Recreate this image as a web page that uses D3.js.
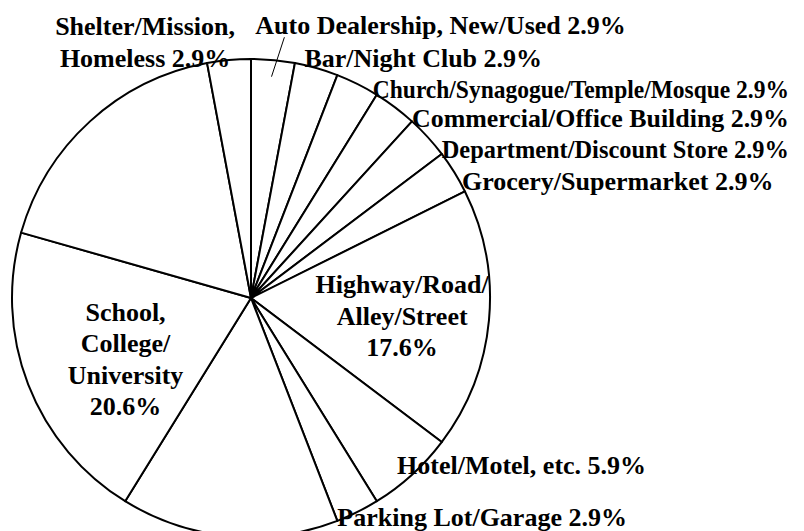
<!DOCTYPE html>
<html>
<head>
<meta charset="utf-8">
<script src="https://cdn.jsdelivr.net/npm/d3@7"></script>
<style>
  body { margin: 0; background: #fff; }
  svg text { font-family: "Times New Roman", "Liberation Serif", serif; font-weight: bold; font-size: 26px; fill: #000; }
</style>
</head>
<body>
<svg id="chart" width="804" height="531"></svg>
<script>
// incidents by location type (34 total), clockwise from 12 o'clock
var categories = ["Auto Dealership, New/Used", "Bar/Night Club", "Church/Synagogue/Temple/Mosque",
    "Commercial/Office Building", "Department/Discount Store", "Grocery/Supermarket",
    "Highway/Road/Alley/Street", "Hotel/Motel, etc.", "Parking Lot/Garage",
    "(unlabeled)", "School, College/University", "(unlabeled)", "Shelter/Mission, Homeless"];
var counts = [1, 1, 1, 1, 1, 1, 6, 2, 1, 5, 7, 6, 1];
var pctLabels = ["2.9%", "2.9%", "2.9%", "2.9%", "2.9%", "2.9%", "17.6%", "5.9%", "2.9%", "", "20.6%", "", "2.9%"];
// how each label is broken into lines
var labelLines = [
    ["Auto Dealership, New/Used 2.9%"],
    ["Bar/Night Club 2.9%"],
    ["Church/Synagogue/Temple/Mosque 2.9%"],
    ["Commercial/Office Building 2.9%"],
    ["Department/Discount Store 2.9%"],
    ["Grocery/Supermarket 2.9%"],
    ["Highway/Road/", "Alley/Street", "17.6%"],
    ["Hotel/Motel, etc. 5.9%"],
    ["Parking Lot/Garage 2.9%"],
    [],
    ["School,", "College/", "University", "20.6%"],
    [],
    ["Shelter/Mission,", "Homeless 2.9%"]
];

var cx = 251, cy = 298, R = 239, lineH = 31.5, rightEdge = 789;

var svg = d3.select("#chart");
var g = svg.append("g").attr("transform", "translate(" + cx + "," + cy + ")");

var pie = d3.pie().sort(null).value(function(d) { return d; });
var arcs = pie(counts);
var arc = d3.arc().innerRadius(0).outerRadius(R);

g.selectAll("path")
    .data(arcs)
    .enter()
    .append("path")
    .attr("d", arc)
    .attr("fill", "#fff")
    .attr("stroke", "#000")
    .attr("stroke-width", 2)
    .attr("stroke-linejoin", "round");

// label placement: where on the slice (angle key + radius factor) plus pixel nudge
var place = [
    {a: "mid", r: 1.1, dx: -20, dy: -2, anchor: "start"},
    {a: "mid", r: 1.0, dx: -12, dy: -1, anchor: "start"},
    {a: "end", r: 1.0, dx: -4, dy: 3, anchor: "start"},
    {a: "end", r: 1.0, dx: 0, dy: 6, anchor: "start"},
    {a: "end", r: 1.0, dx: 0, dy: 4, anchor: "start"},
    {a: "end", r: 1.0, dx: -3, dy: -1, anchor: "start"},
    {a: "mid", r: 0.635, dx: 0, dy: -19, anchor: "middle"},
    {a: "mid", r: 1.0, dx: -15, dy: -1, anchor: "start"},
    {a: "end", r: 1.0, dx: 0, dy: 5, anchor: "start"},
    null,
    {a: "mid", r: 0.563, dx: 0, dy: -26, anchor: "middle"},
    null,
    {a: "start", r: 1.0, dx: -62, dy: -28, anchor: "middle"}
];

function angleOf(d, key) {
    if (key == "start") return d.startAngle;
    if (key == "end") return d.endAngle;
    return (d.startAngle + d.endAngle) / 2;
}

arcs.forEach(function(d, i) {
    var p = place[i];
    if (!p) return;
    var pt = d3.pointRadial(angleOf(d, p.a), R * p.r);
    var x = pt[0] + p.dx, y = pt[1] + p.dy;
    var t = g.append("text")
        .attr("text-anchor", p.anchor)
        .attr("transform", "translate(" + x + "," + y + ")");
    labelLines[i].forEach(function(line, j) {
        t.append("tspan")
            .attr("x", 0)
            .attr("dy", j == 0 ? 0 : lineH)
            .text(line);
    });
    // squeeze long right-hand labels sideways so they end inside the frame
    if (p.anchor == "start") {
        var w = t.node().getComputedTextLength();
        if (cx + x + w > rightEdge) {
            var k = (rightEdge - cx - x) / w;
            t.attr("transform", "translate(" + x + "," + y + ") scale(" + k + ",1)");
        }
    }
});

// leader line for the first slice
var a0 = angleOf(arcs[0], "mid");
var p1 = d3.pointRadial(a0, R * 0.93);
var p2 = d3.pointRadial(a0 + 0.035, R * 1.1);
g.append("line")
    .attr("x1", p1[0]).attr("y1", p1[1])
    .attr("x2", p2[0]).attr("y2", p2[1])
    .attr("stroke", "#000")
    .attr("stroke-width", 1);
</script>
</body>
</html>
